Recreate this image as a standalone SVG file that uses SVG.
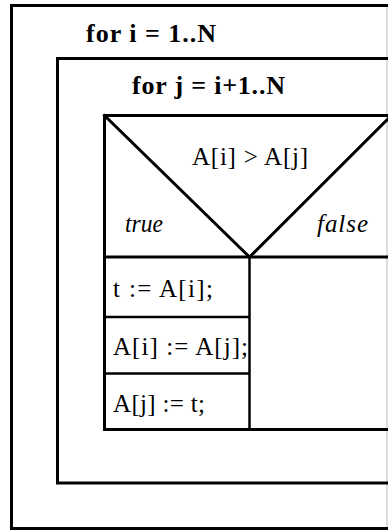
<svg xmlns="http://www.w3.org/2000/svg" width="388" height="531" viewBox="0 0 388 531">
<style>
.frame{fill:none;stroke:#000;stroke-width:3;stroke-linecap:square}
.thin{fill:none;stroke:#000;stroke-width:2.5}
.edge{fill:none;stroke:#bbb;stroke-width:1}
.kw{font-family:"Liberation Serif","Times New Roman",serif;font-weight:bold;font-size:26px;fill:#000}
.tx{font-family:"Liberation Serif","Times New Roman",serif;font-size:25px;fill:#000}
.it{font-family:"Liberation Serif","Times New Roman",serif;font-style:italic;font-size:25px;fill:#000}
</style>
<rect width="388" height="531" fill="#fff"/>
<line class="edge" x1="387" y1="5" x2="387" y2="529"/>
<g id="loop-i">
<path class="frame" d="M388 5.5 H11.5 V528.5 H388"/>
<text class="kw" x="86" y="42" textLength="130" lengthAdjust="spacing">for i = 1..N</text>
</g>
<g id="loop-j">
<path class="frame" d="M388 58.5 H57.5 V483 H388"/>
<text class="kw" x="132" y="94" textLength="153" lengthAdjust="spacing">for j = i+1..N</text>
</g>
<g id="decision">
<path class="frame" d="M388 115.5 H104.5 V429.5 H388"/>
<path class="frame" d="M104.5 257 H388"/>
<path class="frame" d="M104.5 115.5 L249.5 257 L392 115" stroke-linejoin="miter"/>
<text class="tx" x="192" y="165" textLength="116" lengthAdjust="spacing">A[i] &gt; A[j]</text>
<text class="it" x="125" y="232" textLength="38" lengthAdjust="spacingAndGlyphs">true</text>
<text class="it" x="317" y="232" textLength="51" lengthAdjust="spacing">false</text>
</g>
<g id="false-branch">
<path class="thin" d="M249.5 257 V429.5"/>
</g>
<g id="stmt-1">
<text class="tx" x="113" y="297" textLength="100" lengthAdjust="spacing">t := A[i];</text>
</g>
<g id="stmt-2">
<path class="thin" d="M104.5 317 H249.5"/>
<text class="tx" x="113" y="355" textLength="135" lengthAdjust="spacing">A[i] := A[j];</text>
</g>
<g id="stmt-3">
<path class="thin" d="M104.5 373.5 H249.5"/>
<text class="tx" x="113" y="412" textLength="92" lengthAdjust="spacing">A[j] := t;</text>
</g>
<g id="connectors"/>
</svg>
